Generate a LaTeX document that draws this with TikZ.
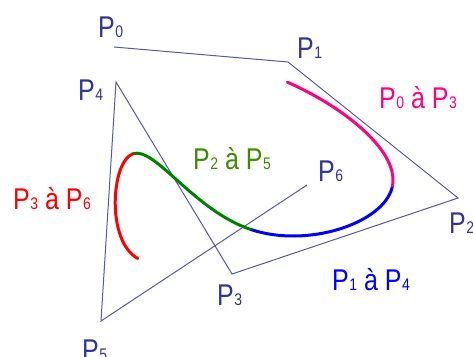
\documentclass[tikz,border=0pt]{standalone}
\usepackage{fontspec}
\setmainfont{Liberation Sans}
\usetikzlibrary{calc}
\definecolor{polyc}{RGB}{88,88,168}
\definecolor{labc}{RGB}{51,51,153}
\definecolor{pinkc}{RGB}{255,0,128}
\definecolor{greenc}{RGB}{0,128,0}
\definecolor{greenl}{RGB}{60,140,0}
\newcommand{\Pn}[1]{P\kern0.5pt{\fontsize{14}{14}\selectfont #1}}
\newcommand{\Lab}[1]{\scalebox{1}[1.2]{\fontsize{25}{25}\selectfont #1}}
\newcommand{\seg}[5]{\draw[curve,#5] ($1/6*(#1)+2/3*(#2)+1/6*(#3)$) .. controls ($2/3*(#2)+1/3*(#3)$) and ($1/3*(#2)+2/3*(#3)$) .. ($1/6*(#2)+2/3*(#3)+1/6*(#4)$);}
\begin{document}
\begin{tikzpicture}[x=1pt,y=1pt,
  poly/.style={draw=polyc,line width=1pt,line join=miter},
  curve/.style={line width=3pt,line cap=round},
  lab/.style={anchor=base west,inner sep=0pt,text=labc},
  seglab/.style={anchor=base west,inner sep=0pt}]
\fill[white] (0,0) rectangle (473,-356);
\useasboundingbox (0,0) rectangle (473,-356);
\begin{scope}
\clip (0,0) rectangle (473,-356);
\coordinate (P0) at (114,-47);
\coordinate (P1) at (288,-62);
\coordinate (P2) at (458,-198);
\coordinate (P3) at (232,-274);
\coordinate (P4) at (116,-82);
\coordinate (P5) at (101,-321);
\coordinate (P6) at (307,-185);
\draw[poly] (P0) -- (P1) -- (P2) -- (P3) -- (P4) -- (P5) -- (P6);
\seg{P0}{P1}{P2}{P3}{pinkc}
\seg{P1}{P2}{P3}{P4}{blue}
\seg{P2}{P3}{P4}{P5}{greenc}
\seg{P3}{P4}{P5}{P6}{red}
\node[lab] (L0) at (98,-37) {\Lab{\Pn{0}}};
\node[lab] (L1) at (297,-58) {\Lab{\Pn{1}}};
\node[lab] (L2) at (449,-233) {\Lab{\Pn{2}}};
\node[lab] (L3) at (217,-305) {\Lab{\Pn{3}}};
\node[lab] (L4) at (78,-100) {\Lab{\Pn{4}}};
\node[lab] (L5) at (82,-360) {\Lab{\Pn{5}}};
\node[lab] (L6) at (318,-181) {\Lab{\Pn{6}}};
\node[seglab,text=pinkc] (S03) at (379,-108) {\Lab{\Pn{0} à \Pn{3}}};
\node[seglab,text=greenl] (S25) at (193,-169) {\Lab{\Pn{2} à \Pn{5}}};
\node[seglab,text=red] (S36) at (13,-209) {\Lab{\Pn{3} à \Pn{6}}};
\node[seglab,text=blue] (S14) at (332,-290) {\Lab{\Pn{1} à \Pn{4}}};
\end{scope}
\end{tikzpicture}
\end{document}
